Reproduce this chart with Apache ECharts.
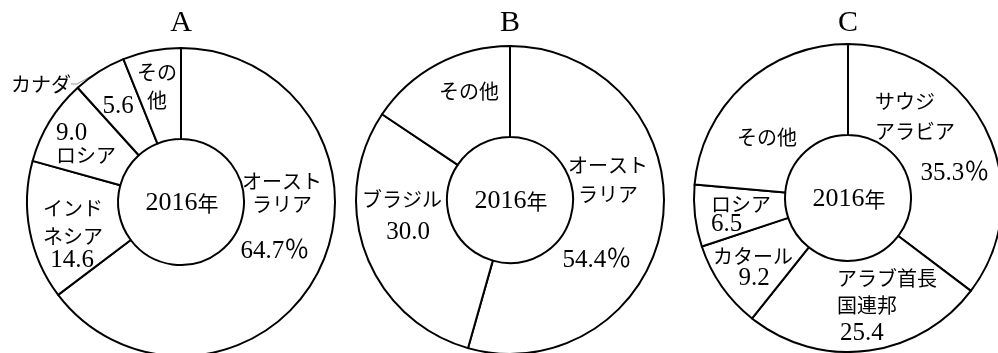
<!DOCTYPE html>
<html>
<head>
<meta charset="utf-8">
<script src="https://cdn.jsdelivr.net/npm/echarts@6/dist/echarts.min.js"></script>
<style>
  html, body { margin: 0; background: #fff; }
  #main { width: 998px; height: 353px; }
</style>
</head>
<body>
<div id="main"></div>
<script>
// shares (%) in 2016, three charts A / B / C
var chartTitles = ['A', 'B', 'C'];
var yearText = '2016';

var namesA = ['オースト\nラリア', 'インド\nネシア', 'ロシア', 'カナダ', 'その\n他'];
var valuesA = [64.7, 14.6, 9.0, 5.6, 6.1];

var namesB = ['オースト\nラリア', 'ブラジル', 'その他'];
var valuesB = [54.4, 30.0, 15.6];

var namesC = ['サウジ\nアラビア', 'アラブ首長\n国連邦', 'カタール', 'ロシア', 'その他'];
var valuesC = [35.3, 25.4, 9.2, 6.5, 23.6];

// label spots, offset from the pie centre: [dx, dy, align, lineHeight]
var namePosA = [[101, -9.5, 'center', 23], [-138, 20, 'left', 28], [-125, -47, 'left', 22], [-140, -118, 'center', 22], [-24, -116, 'center', 28]];
var valuePosA = [[94, 49, 'center'], [-109, 58, 'center'], [-125, -69, 'left'], [-63, -96, 'center'], null];
var namePosB = [[98, -20.5, 'center', 29], [-108, -1, 'center', 22], [-41, -109, 'center', 22]];
var valuePosB = [[87, 60, 'center'], [-102, 32, 'center'], null];
var namePosC = [[27, -82, 'left', 30], [-11, 93.5, 'left', 27], [-95, 58, 'center', 22], [-137, 6, 'left', 22], [-81, -61, 'center', 22]];
var valuePosC = [[107, -25, 'center'], [-8, 135, 'left'], [-94, 80, 'center'], [-137, 26, 'left'], null];

var charts = [
  { title: chartTitles[0], center: [181, 202], names: namesA, values: valuesA, namePos: namePosA, valuePos: valuePosA, outside: 3 },
  { title: chartTitles[1], center: [510, 200], names: namesB, values: valuesB, namePos: namePosB, valuePos: valuePosB, outside: -1 },
  { title: chartTitles[2], center: [848, 198], names: namesC, values: valuesC, namePos: namePosC, valuePos: valuePosC, outside: -1 }
];

var SERIF = '"Liberation Serif", "Noto Sans CJK JP"';
var GOTHIC = '"Noto Sans CJK JP"';

function placer(cfg, posList) {
  return function (params) {
    var p = posList[params.dataIndex];
    if (!p) return {};
    return { x: cfg.center[0] + p[0], y: cfg.center[1] + p[1], align: p[2], verticalAlign: 'middle' };
  };
}

var series = [];
var titles = [];

charts.forEach(function (cfg) {
  // the ring itself plus the name labels
  series.push({
    type: 'pie',
    center: cfg.center,
    radius: [63, 154],
    startAngle: 90,
    clockwise: true,
    silent: true,
    avoidLabelOverlap: false,
    itemStyle: { color: '#fff', borderColor: '#000', borderWidth: 2 },
    label: { show: true, position: 'inside', formatter: '{b}', color: '#000', fontFamily: GOTHIC, fontSize: 20 },
    labelLine: { show: false },
    labelLayout: placer(cfg, cfg.namePos),
    data: cfg.names.map(function (n, i) {
      var item = { name: n, value: cfg.values[i], label: { lineHeight: cfg.namePos[i][3] } };
      if (i === cfg.outside) {
        item.label.position = 'outside';
        item.labelLine = { show: true, length: 6, length2: 6, lineStyle: { color: '#999', width: 1 } };
      }
      return item;
    })
  });
  // transparent copy that only carries the number labels
  series.push({
    type: 'pie',
    center: cfg.center,
    radius: [63, 154],
    startAngle: 90,
    clockwise: true,
    silent: true,
    avoidLabelOverlap: false,
    itemStyle: { color: 'rgba(0,0,0,0)', borderWidth: 0 },
    label: {
      show: true,
      position: 'inside',
      color: '#000',
      fontFamily: SERIF,
      fontSize: 25,
      formatter: function (p) {
        return p.dataIndex === 0 ? p.value.toFixed(1) + '％' : p.value.toFixed(1);
      }
    },
    labelLine: { show: false },
    labelLayout: placer(cfg, cfg.valuePos),
    data: cfg.names.map(function (n, i) {
      return { name: n, value: cfg.values[i], label: { show: cfg.valuePos[i] !== null } };
    })
  });

  titles.push({
    text: cfg.title,
    left: cfg.center[0],
    top: 23,
    padding: 0,
    textAlign: 'center',
    textVerticalAlign: 'middle',
    textStyle: { fontFamily: SERIF, fontSize: 30, fontWeight: 'normal', color: '#000' }
  });
  titles.push({
    text: '{d|' + yearText + '}{n|年}',
    left: cfg.center[0] + 1,
    top: cfg.center[1] + 1,
    padding: 0,
    textAlign: 'center',
    textVerticalAlign: 'middle',
    textStyle: {
      fontWeight: 'normal',
      rich: {
        d: { fontFamily: SERIF, fontSize: 26, fontWeight: 'normal', color: '#000' },
        n: { fontFamily: GOTHIC, fontSize: 21, fontWeight: 'normal', color: '#000' }
      }
    }
  });
});

var chartDom = document.getElementById('main');
var myChart = echarts.init(chartDom);
var option = {
  animation: false,
  backgroundColor: '#fff',
  title: titles,
  series: series
};
option && myChart.setOption(option);
</script>
</body>
</html>
